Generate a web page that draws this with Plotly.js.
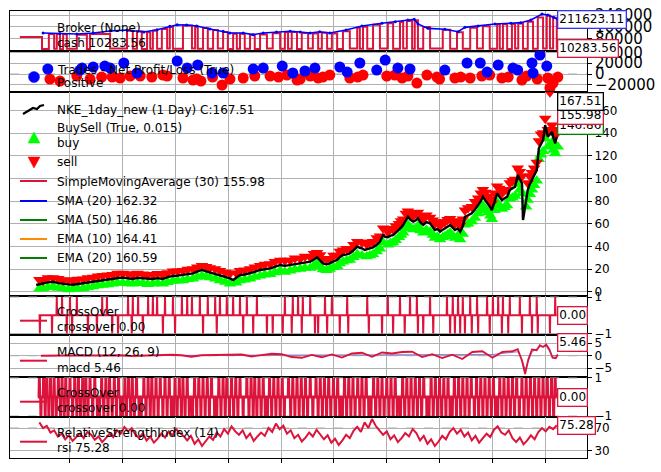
<!DOCTYPE html>
<html><head><meta charset="utf-8">
<script src="https://cdn.plot.ly/plotly-3.0.1.min.js"></script>
<style>html,body{margin:0;padding:0;background:#fff}#chart{width:661px;height:472px}</style>
</head><body><div id="chart"></div>
<script>
// ---------------- DATA (bar index; ticks every 100 bars) ----------------
const xTicks = [0,100,200,300,400,500,600,700,800,900];
const xTickLabels = ['','','','','','','','','',''];

// Broker panel
const valueX = [-51,-19,13,44,76,108,140,165,189,203,221,240,265,290,303,328,347,366,391,417,436,455,473,492,523,553,591,616,640,652,659,678,710,735,748,773,805,835,854,873,894,905,916,924];
const valueY = [118000,115000,111000,118000,132000,139000,125000,141000,164000,175000,173000,166000,146000,130000,118000,118000,107000,118000,125000,130000,125000,118000,127000,118000,139000,166000,185000,196000,207000,212000,180000,150000,144000,127000,157000,166000,180000,185000,189000,207000,248000,241000,226000,211623.11];
const cashX = [-95,-53,-40,-30,-25,-19,-13,-6,13,32,38,76,108,119,127,136,146,152,157,165,174,184,189,195,214,231,237,242,252,261,271,280,290,299,309,316,322,331,341,350,360,373,384,398,407,413,420,430,439,451,460,470,477,487,496,506,517,530,544,549,555,563,574,587,602,612,625,631,638,648,653,659,669,682,706,720,733,744,758,771,782,795,809,814,820,828,837,843,849,858,867,877,886,896,903,909,915,922,924];
const cashY = [91000,9000,112000,10000,111000,8000,109000,11000,106000,9000,112000,12000,134000,10000,130000,9000,123000,11000,133000,10000,145000,12000,159000,10000,169000,13000,162000,11000,153000,10000,138000,12000,125000,9000,113000,10000,113000,11000,107000,9000,108000,12000,117000,10000,123000,11000,125000,9000,119000,12000,115000,10000,120000,11000,115000,9000,130000,12000,155000,10000,161000,11000,175000,13000,185000,10000,193000,12000,201000,11000,205000,10000,160000,12000,140000,11000,123000,10000,155000,12000,165000,10000,176000,11000,178000,9000,180000,12000,183000,10000,195000,11000,225000,13000,238000,12000,223000,10283.56,10283.56];
const brokerTicks = [0,80000,160000,240000];
const brokerTickText = ['0','80000','160000','240000'];

// Trades panel
const posX = [-42,19,23,44,66,76,102,127,203,222,242,269,290,347,366,402,422,445,464,511,525,549,581,597,621,644,710,752,777,790,811,839,848,875,877,890,903];
const posY = [9300,7400,11100,13000,14800,11100,20400,1900,24100,11100,16700,1900,1900,9300,11100,14800,1900,5600,11100,13000,3700,20400,7400,25900,11100,9300,7400,20400,20400,3700,16700,11100,7400,20400,1900,35200,14800];
const negX = [-38,-19,13,38,80,114,133,155,176,184,214,233,248,288,303,328,379,411,430,436,470,479,492,530,555,600,629,657,676,695,729,758,795,818,856,905,909,915,924,60,95,240,270,350,395,455,545,615,640,700,740,780,830,865,885];
const negY = [-9300,-13000,-3700,-9300,-5600,-3700,-3700,-5600,-1900,-3700,-7400,-11100,-13000,-20400,-9300,-7400,-3700,-1900,-11100,-9300,-7400,-5600,-1900,-7400,-1900,-3700,-7400,-16700,-1900,-5600,-7400,-7400,-1900,-7400,-11100,-7400,-25900,-16700,-5600,-5600,-7400,-9300,-5600,-3700,-5600,-3700,-5600,-1900,-3700,-9300,-5600,-3700,-5600,-3700,-9300];
const tradeTicks = [-20000,0,20000,40000];
const tradeTickText = ['−20000','0','20000','40000'];

// Price panel
const priceX = [-64,-58,-51,-42,-32,-22,-13,-3,6,15,25,34,44,53,62,72,81,90,100,110,119,128,138,147,157,166,176,185,195,204,214,223,233,241,250,258,265,275,284,294,303,309,315,322,331,341,350,360,369,379,388,398,407,417,426,436,445,455,462,468,474,479,486,492,499,506,511,517,524,530,537,544,549,553,558,562,568,574,581,587,593,597,602,607,612,617,623,627,631,636,640,645,650,655,659,664,669,675,682,687,691,696,701,706,710,715,720,725,729,734,739,744,748,754,761,767,773,778,782,787,792,796,799,804,809,813,818,823,828,833,838,843,848,852,856,858,861,864,867,871,875,879,884,888,892,896,900,903,905,909,913,916,919,922];
const priceY = [5.9,6.8,7.4,8.2,8.8,7.6,6.8,6.5,6.2,6.9,7.4,8.3,8.8,9.9,10.3,10.8,11.2,12.1,12.4,11.8,11.2,12.2,11.8,11.0,11.2,12.0,11.2,12.8,13.9,14.2,14.7,15.6,16.2,17.8,19.2,18.0,17.0,16.0,14.7,13.0,11.8,10.3,12.5,14.7,15.2,16.2,17.5,19.2,19.8,20.6,22.0,23.6,22.8,23.6,24.5,25.0,26.0,26.5,28.5,30.4,27.5,25.0,24.2,25.0,26.8,28.0,30.5,32.4,33.0,33.9,36.5,39.7,38.8,38.3,36.8,37.4,38.0,39.2,41.5,44.1,50.0,48.5,48.0,49.5,50.0,52.0,54.5,56.5,58.9,63.0,66.2,63.5,61.8,63.0,64.8,61.0,58.9,61.5,60.4,57.0,54.5,55.5,53.0,54.8,56.0,57.5,58.9,56.5,54.5,55.8,53.0,58.0,66.2,67.5,69.2,72.5,76.5,80.0,83.8,80.5,78.0,74.5,72.1,80.0,86.8,84.0,80.9,82.5,83.8,89.8,91.0,92.7,103.0,99.0,95.7,63.3,72.0,83.8,89.8,95.0,98.6,103.0,107.4,126.6,131.0,133.9,147.0,140.0,136.8,139.0,141.2,135.0,131.0,136.8];
const buyX = [-51,-32,-13,6,25,44,62,81,100,119,138,157,176,195,214,233,250,265,284,303,322,341,360,379,398,417,436,455,468,479,492,506,517,530,544,562,574,587,602,612,623,631,640,650,659,669,682,691,701,710,720,729,739,748,761,773,782,792,799,809,818,828,833,843,848,856,864,867,875,879,884,888,896,905,913,919,924,
  -58,-42,-22,-3,15,34,53,72,90,110,128,147,166,185,204,223,241,258,275,294,315,331,350,369,388,407,426,445,462,474,486,499,511,524,537,553,568,581,593,607,617,627,636,645,655,664,675,687,696,706,715,725,734,744,754,767,778,787,796,804,813,823,838,852,871,892,900,909,916];
const buyY = [3,4.5,3,2.5,3,4.5,6,7,8,7,7.5,7,7,9.5,10,11.5,14,12.5,10,7,10,11.5,14,15.5,18.5,18.5,20,21,25,19.5,20,22.5,26.5,28,33,31,33,38,41.5,43.5,48,52,59,55,58,52,53,47.5,46,49,52,47.5,46,59,62,69,76,70,64,79,73,76,82,84.5,95,87,75,81,90,94,98,117,124,128,132,122,128,
  2.5,3.8,3.2,2,2.5,3.8,5.4,6.3,7.6,7.3,7.7,6.5,7.5,8.3,9.7,11,13,13.5,11.5,8.5,8,10.5,13,15,17,17.5,19.5,21,23,22,19,21.5,25,27.5,30.5,32,32,35.5,43.5,43,45.5,50,56,56.5,56,54,54.5,50,48.5,48,50.5,49.5,49,51,60,65,72,72.5,67,72,76,74.5,83,90,86,121,135,129,125];
const sellX = [-51,-32,-13,6,25,44,62,81,100,119,138,157,176,195,214,233,250,265,284,303,322,341,360,379,398,417,436,455,468,479,492,506,517,530,544,562,574,587,602,612,623,631,640,650,659,669,682,691,701,710,720,729,739,748,761,773,782,792,799,809,818,828,833,843,848,856,867,875,879,884,888,896,900,905,909,913,919,924,
  -58,-42,-22,-3,15,34,53,72,90,110,128,147,166,185,204,223,241,258,275,294,315,331,350,369,388,407,426,445,462,474,486,499,511,524,537,553,568,581,593,607,617,627,636,645,655,664,675,687,696,706,715,725,734,744,754,767,778,787,796,804,813,823,838,852,871,892,916];
const sellY = [10,12,10,9.5,11,12.5,14,15,16,15,15.5,15,15,18,18.5,20,23,21,18.5,16,18.5,20,23,24.5,27.5,27.5,29,30.5,34.5,29,29,32,36.5,38,44,42,44,49,53,55,60,64,71,67,70,64,65.5,60,58.5,61.5,64.5,60,58.5,72,75,82.5,90,84,78,93,87,90,96,99,109,102,96,105,109,114,133,140,153,143,176,147,138,143,
  10.5,12,11.5,10.3,10.7,12.1,13.7,14.6,16,15.6,16,14.8,15.8,16.6,18,19.5,21.6,22,20,17,16.3,19,21.5,24,26.5,27.5,29.5,31,33.5,32.5,29,32,35.5,38,41.5,43.5,43.5,47.5,56,55.5,58,62.5,69,69.5,69,67,67.5,63,61.5,61,63.5,62.5,62,64,74,79.5,87,87.5,81.5,87,91,89.5,98,106,102,139,143];
const priceTicks = [0,20,40,60,80,100,120,140,160];

// CrossOver 1
const cross1Span = [-57, 922];
const cross1Up = [-25,-15,0,13,61,70,110,119,129,148,157,165,180,195,212,222,231,246,261,275,284,297,309,322,335,354,407,422,432,441,455,483,496,525,563,602,625,644,657,682,714,725,735,744,758,771,790,801,811,820,833,852,871,884,919];
const cross1Down = [-57,-34,-6,4,34,51,80,91,117,138,176,199,252,278,328,347,373,384,403,420,439,464,470,487,511,527,566,591,612,634,659,669,688,720,729,739,748,761,773,795,818,830,856,875,886,909];

// MACD
const macdX = [-55,-36,-17,2,21,40,59,78,97,116,135,154,173,192,211,230,249,268,287,306,325,344,363,382,401,420,439,458,477,496,515,534,553,572,591,610,629,648,667,686,705,724,743,762,781,800,819,838,848,856,862,868,875,884,890,896,902,908,914,920,924];
const macdY = [0,0.1,-0.1,0.1,0.2,0.1,0.2,0.1,0.2,-0.1,0.1,0,0.3,0.4,0.2,-0.4,0.2,0.3,0.4,0.2,0.5,-0.3,0.4,0.8,0.6,-0.5,-0.8,0.3,-0.6,0.5,-0.7,0.9,1.2,-0.4,1.3,0.9,1.5,1.6,-0.5,0.6,-0.9,0.4,-1.3,1.5,1.8,-0.8,1.5,1.8,2.6,-2,-7.3,-1.5,2.5,2.2,4.2,3.5,4.5,2.5,-0.8,-1.0,0.5];
const signalX = [-55,135,325,515,705,800,848,856,862,875,890,902,914,924];
const signalY = [0,0.1,0.2,0.1,0.2,0.5,1.6,-1.4,-5.5,1.5,3.6,3.8,-0.2,0.3];
const macdTicks = [-5,0,5];

// CrossOver 2
const cross2Span = [-61, 922];
const cross2Up = [-58,-50,-44,-37,-30,-22,-15,-8,0,9,16,24,30,38,47,60,68,75,84,92,104,111,118,126,140,148,155,163,171,180,188,199,207,214,222,236,244,252,260,268,282,290,297,306,314,322,335,343,350,358,366,378,386,394,402,414,422,430,438,446,455,466,474,482,490,499,507,520,528,536,545,553,561,575,583,591,600,608,616,630,638,646,654,662,670,684,692,700,708,716,728,736,744,752,760,770,778,786,794,802,814,822,830,838,846,856,864,872,880,888,896,904,912,919];
const cross2Down = [-55,-47,-40,-33,-26,-18,-11,-4,5,13,20,27,34,43,52,56,64,72,80,88,96,100,107,115,122,131,135,144,152,159,167,176,184,192,196,203,211,218,226,232,240,248,256,264,274,278,286,294,302,310,318,328,339,347,354,362,370,374,382,390,398,406,418,426,434,442,450,460,470,478,486,494,503,511,516,524,532,540,549,557,566,570,579,587,595,604,612,620,626,634,642,650,658,666,676,680,688,696,704,712,720,724,732,740,748,756,766,774,782,790,798,806,810,818,826,834,842,851,860,868,876,884,892,900,908,916];
const crossTicks = [-1,1];

// RSI
const rsiX = [-58,-51,-44,-37,-30,-23,-16,-9,-2,5,12,19,26,33,40,47,54,61,68,75,82,89,96,103,110,117,124,131,138,145,152,159,166,173,180,187,194,201,208,215,222,229,236,243,250,257,264,271,278,285,292,299,306,313,320,327,334,341,348,355,362,369,376,383,390,397,404,411,418,425,432,439,446,453,460,467,474,481,488,495,502,509,516,523,530,537,544,551,558,565,572,579,586,593,600,607,614,621,628,635,642,649,656,663,670,677,684,691,698,705,712,719,726,733,740,747,754,761,768,775,782,789,796,803,810,817,824,831,838,845,852,859,866,873,880,887,894,901,908,915,922];
const rsiY = [80,70,74,62,66,55,60,50,57,47,54,60,52,63,58,49,55,45,52,60,
  54,66,60,72,64,70,58,52,61,48,55,44,51,60,53,64,57,68,61,56,
  48,56,42,50,38,47,55,49,62,55,68,60,73,64,58,66,52,60,47,55,
  62,56,70,63,78,68,74,60,66,52,58,46,53,62,55,67,59,50,57,44,
  51,40,48,58,52,65,72,63,80,70,86,74,66,58,64,50,57,45,52,61,
  55,68,61,48,56,42,50,38,46,56,50,63,70,60,67,55,62,48,56,44,
  52,60,54,67,73,62,58,66,52,45,53,41,48,57,50,63,70,64,72,68,75];
const rsiTicks = [30,70];

// ---------------- helpers ----------------
const PX = px => (px - 10) / 577;
const PY = py => (458 - py) / 447;
const CRIMSON = '#dc143c';
const FONT = 'DejaVu Sans, sans-serif';
const XR = [-113.6, 979.2];

function spikes(up, down, span) {
  const ev = up.map(b => [b, 1]).concat(down.map(b => [b, -1])).sort((a, b) => a[0] - b[0]);
  const xs = [span[0]], ys = [0];
  ev.forEach(([b, s]) => { xs.push(b - 0.6, b, b + 0.6); ys.push(0, s, 0); });
  xs.push(span[1]); ys.push(0);
  return {x: xs, y: ys};
}
const c1 = spikes(cross1Up, cross1Down, cross1Span);
const c2 = spikes(cross2Up, cross2Down, cross2Span);

const traces = [
  {x: cashX, y: cashY, xaxis:'x', yaxis:'y', mode:'lines', line:{color:CRIMSON, width:2, shape:'hv'}},
  {x: valueX, y: valueY, xaxis:'x', yaxis:'y', mode:'lines+markers', line:{color:'#0000ff', width:1.6}, marker:{size:3, color:'#0000ff'}},
  {x: negX, y: negY, xaxis:'x2', yaxis:'y2', mode:'markers', marker:{size:11, color:'#ff0000'}},
  {x: posX, y: posY, xaxis:'x2', yaxis:'y2', mode:'markers', marker:{size:11, color:'#0000ff'}},
  {x: buyX, y: buyY, xaxis:'x3', yaxis:'y3', mode:'markers', marker:{symbol:'triangle-up', size:11, color:'#00ff00'}},
  {x: sellX, y: sellY, xaxis:'x3', yaxis:'y3', mode:'markers', marker:{symbol:'triangle-down', size:11, color:'#ff0000'}},
  {x: priceX, y: priceY, xaxis:'x3', yaxis:'y3', mode:'lines', line:{color:'#000000', width:2.4}},
  {x: c1.x, y: c1.y, xaxis:'x4', yaxis:'y4', mode:'lines', line:{color:CRIMSON, width:2}},
  {x: signalX, y: signalY, xaxis:'x5', yaxis:'y5', mode:'lines', line:{color:'#6a5acd', width:0.8}},
  {x: macdX, y: macdY, xaxis:'x5', yaxis:'y5', mode:'lines', line:{color:CRIMSON, width:1.8}},
  {x: c2.x, y: c2.y, xaxis:'x6', yaxis:'y6', mode:'lines', line:{color:CRIMSON, width:3}},
  {x: rsiX, y: rsiY, xaxis:'x7', yaxis:'y7', mode:'lines', line:{color:CRIMSON, width:2}}
].map(t => Object.assign({showlegend:false, hoverinfo:'skip'}, t));

const domains = [[0.9105,1],[0.8188,0.9105],[0.3624,0.8188],[0.2752,0.3624],[0.1812,0.2752],[0.0917,0.1812],[0,0.0917]];
const yRanges = [[-4800,268700],[-33300,42600],[-3.8,176.3],[-1.082,1.055],[-8.5,8.3],[-1.05,1.05],[16.7,89.6]];
const yTickVals = [brokerTicks, tradeTicks, priceTicks, crossTicks, macdTicks, crossTicks, rsiTicks];
const yTickText = [brokerTickText, tradeTickText, null, ['−1','1'], ['−5','0','5'], ['−1','1'], ['30','70']];
const yFontSize = [15,15,12,12,12,12,12];

const layout = {
  width:661, height:472, margin:{l:10, r:74, t:11, b:14, pad:0},
  paper_bgcolor:'#ffffff', plot_bgcolor:'#ffffff',
  font:{family:FONT, size:12, color:'#000'},
  showlegend:false, shapes:[], annotations:[]
};
for (let i = 0; i < 7; i++) {
  const n = i === 0 ? '' : String(i + 1);
  layout['xaxis' + n] = {
    anchor:'y' + n, range:XR, tickvals:xTicks, ticktext:xTickLabels,
    showgrid:true, gridcolor:'#b0b0b0', gridwidth:1, zeroline:false,
    showline:true, mirror:true, linecolor:'#000', linewidth:1,
    ticks: i === 6 ? 'outside' : '', ticklen:4, tickcolor:'#000', showticklabels:false
  };
  const ya = {
    anchor:'x' + n, domain:domains[i], range:yRanges[i], side:'right',
    tickvals:yTickVals[i], showgrid:true, gridcolor:'#b0b0b0', gridwidth:1, zeroline:false,
    showline:true, mirror:true, linecolor:'#000', linewidth:1,
    ticks:'outside', ticklen:4, tickcolor:'#000',
    tickfont:{family:FONT, size:yFontSize[i], color:'#000'}
  };
  if (yTickText[i]) ya.ticktext = yTickText[i];
  layout['yaxis' + n] = ya;
}

// dashed reference lines
[['2',0],['4',1],['4',-1],['5',0],['6',1],['6',-1],['7',30],['7',70]].forEach(([a,v]) => {
  layout.shapes.push({type:'line', xref:'x' + a, x0:XR[0], x1:XR[1], yref:'y' + a, y0:v, y1:v,
    layer:'below', line:{color:'#a8a8a8', width:1, dash:'dash'}});
});

// legend handles
function seg(x0, x1, y, color) {
  layout.shapes.push({type:'line', xref:'paper', yref:'paper', x0:PX(x0), x1:PX(x1), y0:PY(y), y1:PY(y), line:{color:color, width:2}});
}
seg(20, 43, 37, CRIMSON);
seg(20, 47, 181, CRIMSON);
seg(20, 47, 201, '#0000ff');
seg(20, 47, 220, '#008000');
seg(20, 47, 239, '#ff8c00');
seg(20, 47, 258, '#008000');
seg(20, 47, 320.7, CRIMSON);
seg(20, 47, 360.7, CRIMSON);
seg(20, 47, 401.7, CRIMSON);
seg(20, 47, 441.7, CRIMSON);
const pth = pts => 'M' + pts.map(p => PX(p[0]).toFixed(5) + ',' + PY(p[1]).toFixed(5)).join(' L');
layout.shapes.push({type:'path', xref:'paper', yref:'paper', path:pth([[23,114],[28,111],[33,108],[37,109],[40,106],[44,105]]), line:{color:'#000', width:2.2}});
layout.shapes.push({type:'path', xref:'paper', yref:'paper', path:pth([[28,143],[40,143],[34,132]]) + ' Z', fillcolor:'#00ff00', line:{color:'#00ff00', width:0.5}});
layout.shapes.push({type:'path', xref:'paper', yref:'paper', path:pth([[28,157],[40,157],[34,168]]) + ' Z', fillcolor:'#ff0000', line:{color:'#ff0000', width:0.5}});
layout.shapes.push({type:'circle', xref:'paper', yref:'paper', x0:PX(28.5), x1:PX(39.5), y0:PY(82.5), y1:PY(71.5), fillcolor:'#0000ff', line:{color:'#0000ff', width:0.5}});

// legend texts
function txt(t, y) {
  layout.annotations.push({xref:'paper', yref:'paper', x:PX(55.5), y:PY(y), xanchor:'left', yanchor:'middle',
    text:t, showarrow:false, font:{family:FONT, size:12, color:'#000'}, borderpad:0});
}
[['Broker (None)',28],['cash 10283.56',43],['Trades - Net Profit/Loss (True)',69.7],['Positive',83],
 ['NKE_1day_new (1 Day) C:167.51',110],['BuySell (True, 0.015)',128],['buy',143],['sell',162],
 ['SimpleMovingAverage (30) 155.98',182],['SMA (20) 162.32',201],['SMA (50) 146.86',220],['EMA (10) 164.41',239],['EMA (20) 160.59',258],
 ['CrossOver',312],['crossover 0.00',327],['MACD (12, 26, 9)',352],['macd 5.46',367.7],
 ['CrossOver',393],['crossover 0.00',408],['RelativeStrengthIndex (14)',433],['rsi 75.28',448]].forEach(a => txt(a[0], a[1]));

// value tags
function tag(t, axis, val, color) {
  layout.annotations.push({xref:'x' + axis, yref:'y' + axis, x:922, y:val, xanchor:'left', yanchor:'middle',
    text:t, showarrow:false, font:{family:FONT, size:12, color:'#000'}, bgcolor:'#ffffff',
    bordercolor:color, borderwidth:1.3, borderpad:1});
}
tag('211623.11', '', 211623.11, '#3030ff');
tag('10283.56', '', 10283.56, CRIMSON);
tag('164.41', '3', 164.41, '#ff8c00');
tag('162.32', '3', 162.32, '#0000ff');
tag('160.59', '3', 160.59, '#008000');
tag('146.86', '3', 146.86, '#008000');
tag('155.98', '3', 155.98, CRIMSON);
tag('167.51', '3', 167.51, '#000000');
tag('0.00', '4', 0, CRIMSON);
tag('5.46', '5', 5.46, CRIMSON);
tag('0.00', '6', 0, CRIMSON);
tag('75.28', '7', 75.28, CRIMSON);

Plotly.newPlot('chart', traces, layout, {displayModeBar:false, staticPlot:true});
</script></body></html>
